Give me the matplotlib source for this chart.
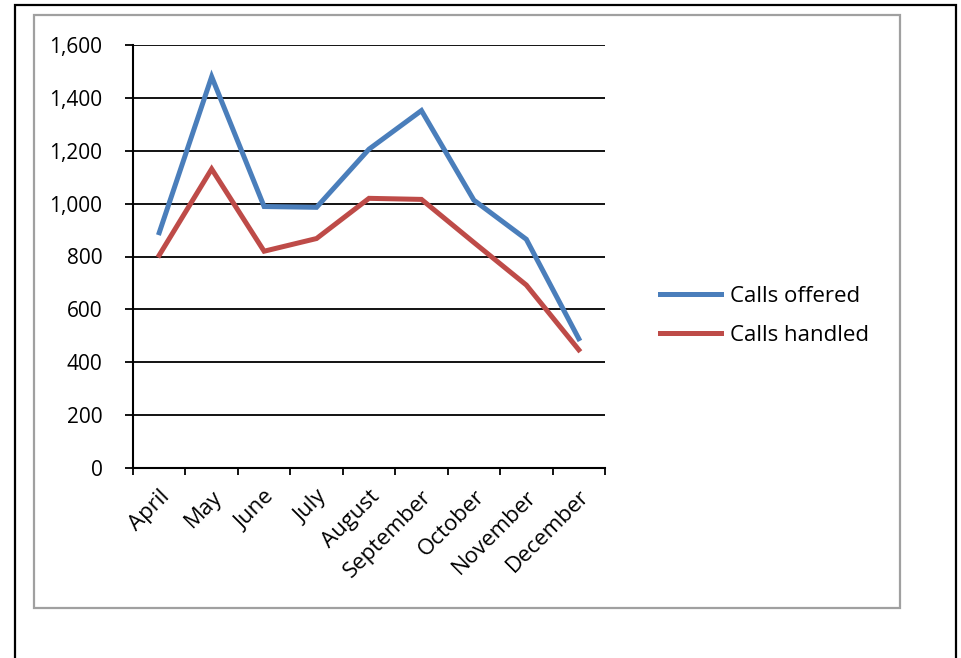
import numpy as np
import matplotlib
matplotlib.use("Agg")
import matplotlib.pyplot as plt
from matplotlib.patches import Rectangle
from matplotlib.ticker import FuncFormatter

months = ["April", "May", "June", "July", "August", "September",
          "October", "November", "December"]
calls_offered = [890, 1480, 989, 986, 1206, 1352, 1013, 865, 489]
calls_handled = [805, 1131, 820, 868, 1020, 1016, 853, 692, 447]
y_ticks = [0, 200, 400, 600, 800, 1000, 1200, 1400, 1600]

plt.rcParams['font.family'] = ['Open Sans', 'DejaVu Sans']

W, H = 962, 658
fig = plt.figure(figsize=(W / 100, H / 100), dpi=100)

# outer black frame and grey chart frame (pixel coords -> figure coords)
fig.patches.append(Rectangle((15 / W, -0.05), (956 - 15) / W, 1.05 - 5 / H,
                             transform=fig.transFigure, fill=False,
                             edgecolor="black", linewidth=1.6))
fig.patches.append(Rectangle((34 / W, 1 - 608 / H), (900 - 34) / W, (608 - 15) / H,
                             transform=fig.transFigure, fill=False,
                             edgecolor="#a0a0a0", linewidth=1.6))

ax = fig.add_axes([133 / W, 1 - 468 / H, (605 - 133) / W, (468 - 45) / H])
x = np.arange(len(months))
ax.plot(x, calls_offered, color="#4a7ebb", linewidth=3.6, label="Calls offered",
        solid_joinstyle="miter")
ax.plot(x, calls_handled, color="#be4b48", linewidth=3.6, label="Calls handled",
        solid_joinstyle="miter")

ax.set_xlim(-0.5, len(months) - 0.5)
ax.set_ylim(0, 1600)
ax.set_yticks(y_ticks)
ax.yaxis.set_major_formatter(FuncFormatter(lambda v, p: f"{int(v):,}"))
ax.yaxis.grid(True, color="black", linewidth=1.3)
ax.set_axisbelow(True)

ax.set_xticks(x)
ax.set_xticklabels(months, rotation=45, ha="right", rotation_mode="anchor")
ax.set_xticks(np.arange(-0.5, len(months)), minor=True)
ax.tick_params(axis="x", which="major", length=0, pad=13, labelsize=16)
ax.tick_params(axis="x", which="minor", length=5, width=1.3, direction="out")
ax.tick_params(axis="y", length=6, width=1.3, pad=16, labelsize=15)

for s in ["top", "right"]:
    ax.spines[s].set_visible(False)
for s in ["left", "bottom"]:
    ax.spines[s].set_linewidth(1.5)

ax.legend(loc="center left", bbox_to_anchor=(1.074, 0.36), frameon=False,
          fontsize=16, handlelength=2.75, labelspacing=0.8, handletextpad=0.4)

fig.savefig("out.png", dpi=100)
